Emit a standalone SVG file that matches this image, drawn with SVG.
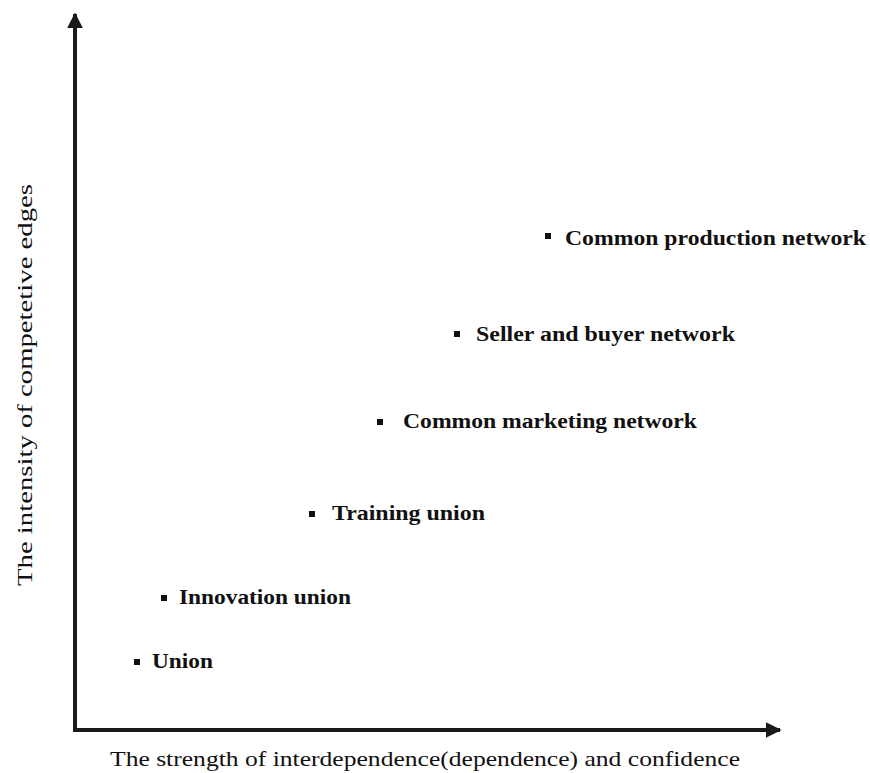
<svg xmlns="http://www.w3.org/2000/svg" width="870" height="773" viewBox="0 0 870 773">
  <style>
    .axis { stroke: #1a1a1a; stroke-width: 4; fill: none; }
    .lbl { font-family: "Liberation Serif", "Times New Roman", serif; font-weight: bold; font-size: 20px; fill: #111; }
    .ax { font-family: "Liberation Serif", "Times New Roman", serif; font-size: 22px; fill: #111; }
    .dot { fill: #111; }
  </style>
  <defs>
    <marker id="arrow" viewBox="0 0 10 10" refX="9" refY="5" markerWidth="4" markerHeight="4" orient="auto" markerUnits="strokeWidth">
      <path d="M0,0 L10,5 L0,10 z" fill="#1a1a1a"/>
    </marker>
  </defs>

  <g id="connectors">
    <path class="axis" d="M75,730 L75,14" marker-end="url(#arrow)"/>
    <path class="axis" d="M73,730 L780,730" marker-end="url(#arrow)"/>
  </g>

  <text class="ax" x="110" y="766" textLength="630" lengthAdjust="spacingAndGlyphs">The strength of interdependence(dependence) and confidence</text>
  <text class="ax" transform="translate(32,586) rotate(-90)" textLength="402" lengthAdjust="spacingAndGlyphs">The intensity of competetive edges</text>

  <g id="union">
    <rect class="dot" x="134" y="659" width="6" height="6"/>
    <text class="lbl" x="152" y="668" textLength="61" lengthAdjust="spacingAndGlyphs">Union</text>
  </g>
  <g id="innovation-union">
    <rect class="dot" x="161" y="595" width="6" height="6"/>
    <text class="lbl" x="179" y="604" textLength="172" lengthAdjust="spacingAndGlyphs">Innovation union</text>
  </g>
  <g id="training-union">
    <rect class="dot" x="309" y="511" width="6" height="6"/>
    <text class="lbl" x="332" y="520" textLength="153" lengthAdjust="spacingAndGlyphs">Training union</text>
  </g>
  <g id="common-marketing-network">
    <rect class="dot" x="377" y="419" width="6" height="6"/>
    <text class="lbl" x="403" y="428" textLength="294" lengthAdjust="spacingAndGlyphs">Common marketing network</text>
  </g>
  <g id="seller-buyer-network">
    <rect class="dot" x="454" y="331" width="6" height="6"/>
    <text class="lbl" x="476" y="341" textLength="259" lengthAdjust="spacingAndGlyphs">Seller and buyer network</text>
  </g>
  <g id="common-production-network">
    <rect class="dot" x="545" y="233" width="6" height="6"/>
    <text class="lbl" x="565" y="245" textLength="301" lengthAdjust="spacingAndGlyphs">Common production network</text>
  </g>
</svg>
